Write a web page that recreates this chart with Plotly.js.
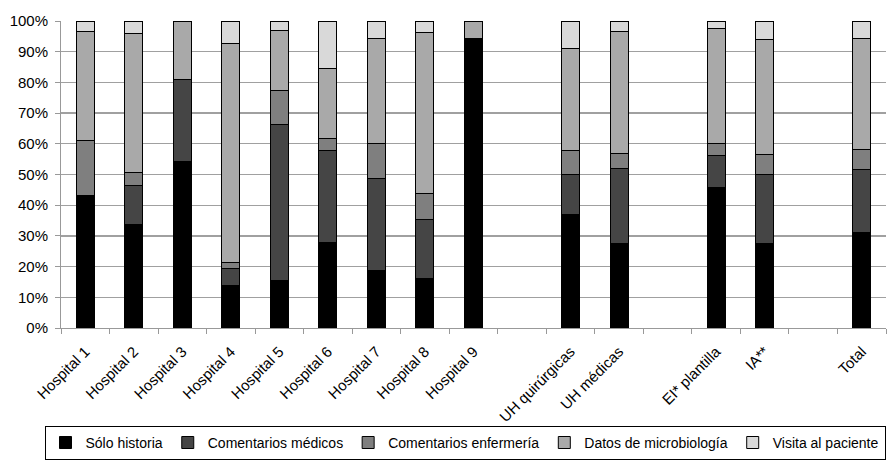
<!DOCTYPE html>
<html>
<head>
<meta charset="utf-8">
<script src="https://cdn.plot.ly/plotly-3.0.1.min.js"></script>
<style>html,body{margin:0;padding:0;background:#fff;}#chart{width:891px;height:464px;}</style>
</head>
<body>
<div id="chart"></div>
<script>
// Categories (blank strings are spacer slots in the original chart)
const categories = ["Hospital 1","Hospital 2","Hospital 3","Hospital 4","Hospital 5","Hospital 6","Hospital 7","Hospital 8","Hospital 9"," ","UH quirúrgicas","UH médicas","  ","EI* plantilla","IA**","   ","Total"];

const soloHistoria        = [43.0, 33.6, 54.1, 13.7, 15.5, 28.0, 18.8, 16.0, 94.4, null, 37.1, 27.4, null, 45.7, 27.6, null, 31.0];
const comentariosMedicos  = [0.0, 12.8, 26.7, 5.7, 50.9, 29.7, 30.0, 19.2, 0.0, null, 12.8, 24.4, null, 10.6, 22.3, null, 20.7];
const comentariosEnferm   = [18.0, 4.3, 0.0, 1.9, 11.1, 4.1, 11.2, 8.7, 0.0, null, 8.0, 5.0, null, 3.7, 6.7, null, 6.5];
const datosMicrobiologia  = [35.5, 45.2, 19.2, 71.5, 19.3, 22.8, 34.3, 52.4, 5.6, null, 33.3, 39.8, null, 37.4, 37.3, null, 36.2];
const visitaPaciente      = [3.5, 4.1, 0.0, 7.2, 3.2, 15.4, 5.7, 3.7, 0.0, null, 8.8, 3.4, null, 2.6, 6.1, null, 5.6];

const seriesNames = ["Sólo historia","Comentarios médicos","Comentarios enfermería","Datos de microbiología","Visita al paciente"];
const seriesData = [soloHistoria, comentariosMedicos, comentariosEnferm, datosMicrobiologia, visitaPaciente];
const seriesColors = ["#000000","#454545","#7f7f7f","#a9a9a9","#d9d9d9"];

const font = "Liberation Sans, Arial, Helvetica, sans-serif";

const traces = seriesData.map((vals, i) => ({
  type: "bar",
  name: seriesNames[i],
  x: categories,
  y: vals,
  marker: {color: seriesColors[i], line: {color: "#000000", width: 1}},
  hoverinfo: "x+y+name"
}));

const layout = {
  width: 891, height: 464,
  margin: {l: 61, r: 5, t: 21, b: 135, pad: 0},
  paper_bgcolor: "#ffffff", plot_bgcolor: "#ffffff",
  barmode: "stack",
  bargap: 0.63,
  font: {family: font, size: 14, color: "#000000"},
  showlegend: true,
  legend: {
    orientation: "h", x: -0.02, xanchor: "left", y: -0.425, yanchor: "bottom",
    bordercolor: "#000000", borderwidth: 1,
    font: {family: font, size: 14, color: "#000000"},
    traceorder: "normal", itemclick: false
  },
  xaxis: {
    type: "category",
    categoryorder: "array", categoryarray: categories,
    tickson: "boundaries",
    ticks: "outside", ticklen: 5, tickcolor: "#999999", tickwidth: 1,
    tickangle: -45,
    ticklabelstandoff: 8,
    showgrid: false,
    showline: true, linecolor: "#999999", linewidth: 1,
    tickfont: {family: font, size: 15, color: "#000000"},
    fixedrange: true
  },
  yaxis: {
    range: [0, 100],
    tickvals: [0,10,20,30,40,50,60,70,80,90,100],
    ticktext: ["0%","10%","20%","30%","40%","50%","60%","70%","80%","90%","100%"],
    ticks: "outside", ticklen: 5, tickcolor: "#999999", tickwidth: 1,
    ticklabelstandoff: 4,
    showgrid: true, gridcolor: "#a0a0a0", gridwidth: 1.3,
    showline: true, linecolor: "#999999", linewidth: 1,
    zeroline: false,
    tickfont: {family: font, size: 15, color: "#000000"},
    fixedrange: true
  }
};

Plotly.newPlot("chart", traces, layout, {displayModeBar: false, staticPlot: true});
</script>
</body>
</html>
